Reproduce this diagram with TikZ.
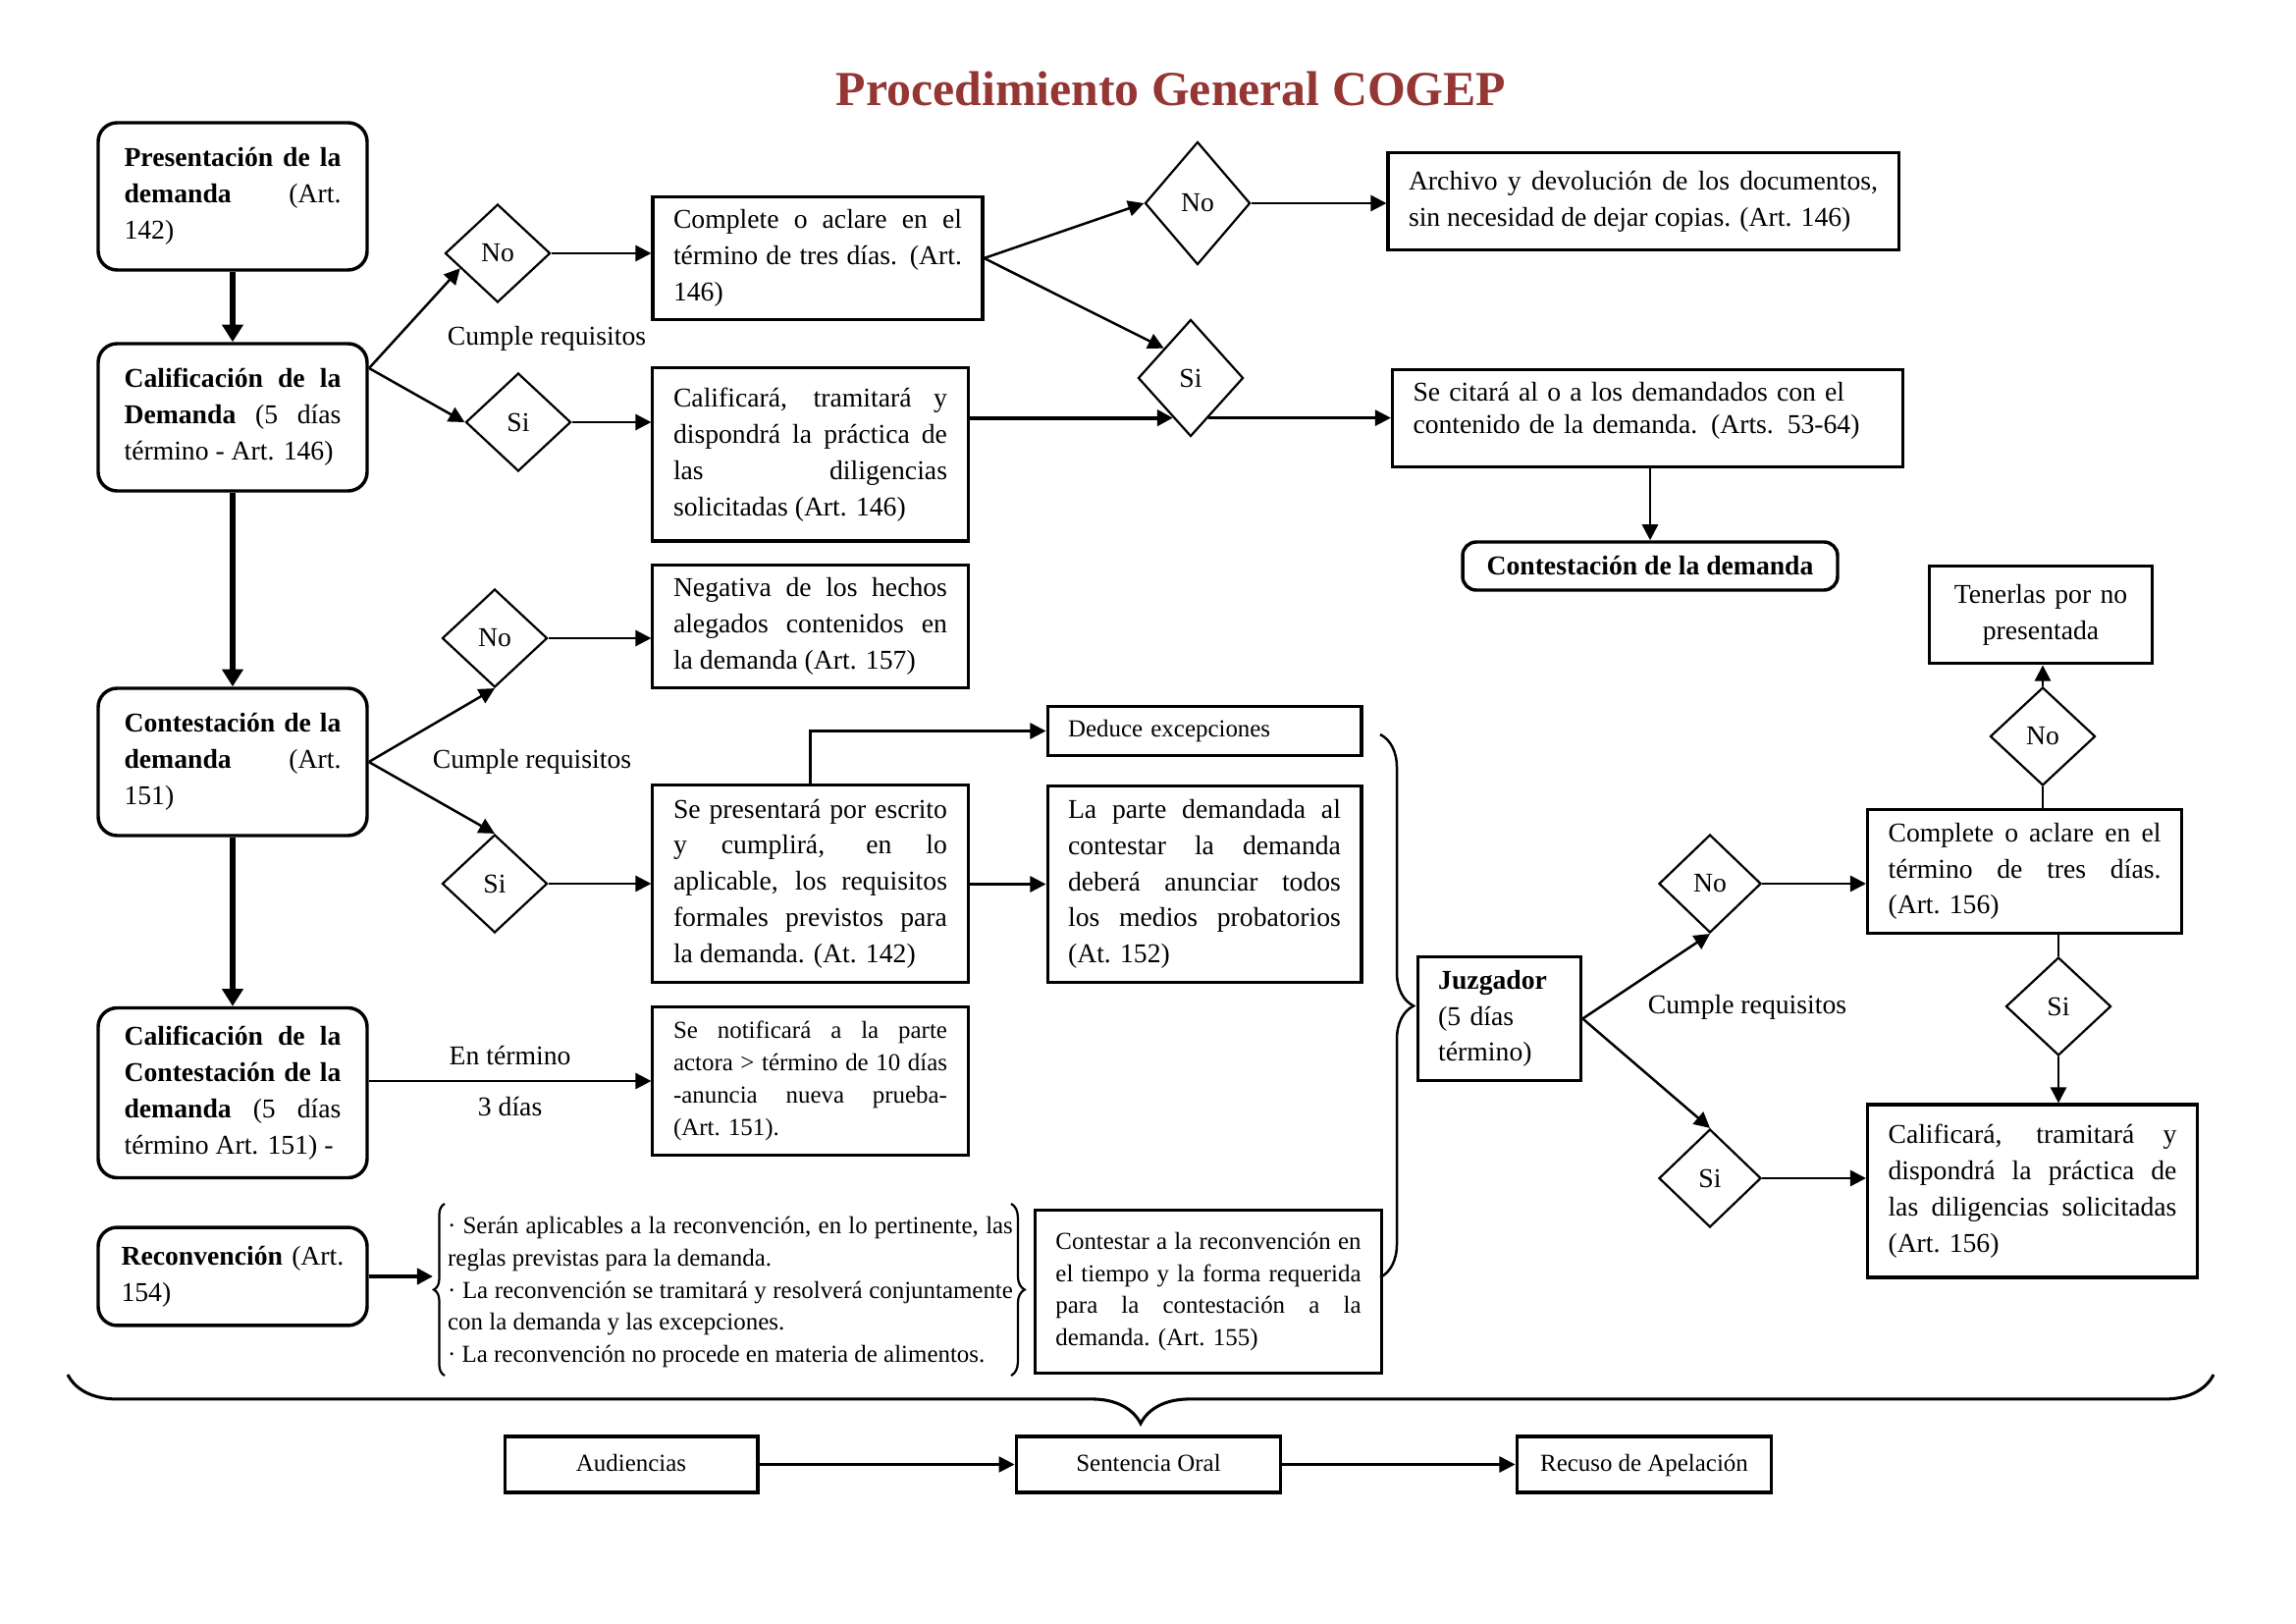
\documentclass[tikz,border=0pt]{standalone}
\usepackage{fontspec}
\setmainfont{Liberation Serif}
\usetikzlibrary{shapes.geometric,arrows.meta,decorations.pathreplacing,calc}
\definecolor{titlered}{RGB}{148,54,52}
\newcommand\bodyfont{\fontsize{10}{13.3}\selectfont}
\newcommand\smallfont{\fontsize{9}{11.9}\selectfont}

\begin{document}
\begin{tikzpicture}[x=0.3613pt, y=-0.3613pt,
    every node/.style={font=\bodyfont},
    roundbox/.style={draw, line width=1.25pt, rounded corners=7pt, text width=79.8pt, inner xsep=9.6pt, inner ysep=0pt, align=justify, minimum height=54.2pt},
    plainbox/.style={draw, line width=1.1pt, inner xsep=7.6pt, inner ysep=0pt, align=justify},
    tagbox/.style={draw, line width=1.1pt, font=\smallfont, minimum height=20.6pt, text height=1.6ex, text depth=.45ex},
    ask/.style={draw, diamond, line width=0.8pt, inner sep=0pt, minimum width=38.7pt, minimum height=36.1pt},
    smalltext/.style={font=\smallfont},
    flow/.style={line width=0.9pt, -{Triangle[length=5.8pt,width=5.8pt]}},
    bigflow/.style={line width=2.2pt, -{Triangle[length=6.4pt,width=7.6pt]}},
    bracket/.style={line width=0.9pt, decorate}
]

        \useasboundingbox (0,0) rectangle (2339,1654);

        % title

        \node[font=\fontsize{18}{22}\selectfont\bfseries, text=titlered, anchor=base] (title) at (1193,108) {Procedimiento General COGEP};

        % left column

        \node[roundbox] (P1) at (237,200) {\textbf{Presentación de la}\linebreak \textbf{demanda} (Art.\linebreak 142)};
        \node[roundbox] (C1) at (237,425) {\textbf{Calificación de la}\linebreak \textbf{Demanda} (5 días\linebreak término - Art. 146)};
        \node[roundbox] (C2) at (237,776) {\textbf{Contestación de la}\linebreak \textbf{demanda} (Art.\linebreak 151)};
        \node[roundbox, minimum height=62.5pt] (C3) at (237,1113) {\textbf{Calificación de la}\linebreak \textbf{Contestación de la}\linebreak \textbf{demanda} (5 días\linebreak término Art. 151) -};
        \node[roundbox, minimum height=36.1pt, text width=82pt, inner xsep=8.5pt, align=left] (R) at (237,1300) {\textbf{Reconvención} (Art.\\ 154)};

        \draw[bigflow] (P1) -- (C1);
        \draw[bigflow] (C1) -- (C2);
        \draw[bigflow] (C2) -- (C3);

        % calificacion de la demanda

        \node[ask] (D1) at (507,258) {No};
        \node[ask] (D2) at (528,430) {Si};
        \coordinate (c1o) at (376,375);
        \draw[flow] (c1o) -- ($(D1.west)!0.3!(D1.south)$);
        \draw[flow] (c1o) -- (D2.west);
        \node (req1) at (557,345) {Cumple requisitos};

        \node[plainbox, text width=106.2pt, minimum height=45.5pt] (B1) at (833,263) {Complete o aclare en el\linebreak término de tres días. (Art.\linebreak 146)};
        \node[plainbox, text width=100.8pt, minimum height=63.6pt] (B2) at (825.5,463) {Calificará, tramitará y\linebreak dispondrá la práctica de\linebreak las diligencias\linebreak solicitadas (Art. 146)};
        \draw[flow] (D1.east) -- (D1.east -| B1.west);
        \draw[flow] (D2.east) -- (D2.east -| B2.west);

        \node[ask, minimum height=45.2pt] (D3) at (1220,207) {No};
        \node[ask, minimum height=43pt] (D4) at (1213,385) {Si};
        \node[plainbox, text width=172.7pt, minimum height=36.1pt] (A) at (1674,205) {Archivo y devolución de los documentos,\linebreak sin necesidad de dejar copias. (Art. 146)};
        \node[plainbox, text width=172.7pt, minimum height=36.1pt, align=left, font=\fontsize{10}{11.9}\selectfont] (S) at (1678.5,426) {Se citará al o a los demandados con el\\ contenido de la demanda. (Arts. 53-64)\\[-4pt]\mbox{}};
        \node[draw, line width=1.25pt, rounded corners=5pt, minimum width=138pt, minimum height=17.7pt, font=\bodyfont\bfseries] (CD) at (1681,576.5) {Contestación de la demanda};

        \draw[flow] (B1.east) -- (D3.west);
        \draw[flow] (B1.east) -- (D4.north west);
        \draw[flow] (D3.east) -- (D3.east -| A.west);
        \coordinate (d4in) at ($(D4.west)!0.67!(D4.south)$);
        \coordinate (d4out) at ($(D4.east)!0.67!(D4.south)$);
        \draw[flow, line width=1.4pt] (d4in -| B2.east) -- (d4in);
        \draw[flow] (d4out) -- (d4out -| S.west);
        \draw[flow] (CD.north |- S.south) -- (CD.north);

        % contestacion de la demanda

        \node[ask] (D5) at (504,650) {No};
        \node[ask] (D6) at (504,900) {Si};
        \draw[flow] (C2.east) -- (D5.south);
        \draw[flow] (C2.east) -- (D6.north);
        \node (req2) at (542,776) {Cumple requisitos};

        \node[plainbox, text width=100.8pt, minimum height=45.2pt] (N) at (825.5,638) {Negativa de los hechos\linebreak alegados contenidos en\linebreak la demanda (Art. 157)};
        \node[plainbox, text width=100.8pt, minimum height=72.3pt] (P) at (825.5,900) {Se presentará por escrito\linebreak y cumplirá, en lo\linebreak aplicable, los requisitos\linebreak formales previstos para\linebreak la demanda. (At. 142)};
        \draw[flow] (D5.east) -- (D5.east -| N.west);
        \draw[flow] (D6.east) -- (D6.east -| P.west);

        \node[plainbox, smalltext, text width=100.4pt, align=left, minimum height=18.4pt] (DE) at (1227,744.5) {Deduce excepciones};
        \node[plainbox, text width=100.4pt, minimum height=72.6pt] (L) at (1227,900.5) {La parte demandada al\linebreak contestar la demanda\linebreak deberá anunciar todos\linebreak los medios probatorios\linebreak (At. 152)};
        \draw[flow] (P.north) |- (DE.west);
        \draw[flow] (L.west -| P.east) -- (L.west);

        \draw[bracket, decoration={brace, amplitude=12.3pt}] (1406,748) -- (1406,1301);

        % juzgador

        \node[plainbox, text width=45pt, align=left, minimum height=45.2pt] (J) at (1527.5,1037.5) {\textbf{Juzgador}\\ (5 días\\ término)};
        \node[ask, minimum width=37.6pt] (D7) at (1742,900) {No};
        \node[ask, minimum width=37.6pt] (D8) at (1742,1200) {Si};
        \draw[flow] (J.east) -- (D7.south);
        \draw[flow] (J.east) -- (D8.north);
        \node (req3) at (1780,1026) {Cumple requisitos};

        \node[plainbox, text width=100.4pt, minimum height=45.2pt] (CA) at (2062.5,887.5) {Complete o aclare en el\linebreak término de tres días.\linebreak (Art. 156)};
        \node[plainbox, text width=106.2pt, minimum height=63.6pt] (CB) at (2070.5,1213) {Calificará, tramitará y\linebreak dispondrá la práctica de\linebreak las diligencias solicitadas\linebreak (Art. 156)};
        \draw[flow] (D7.east) -- (D7.east -| CA.west);
        \draw[flow] (D8.east) -- (D8.east -| CB.west);

        \node[ask] (D9) at (2081,750) {No};
        \node[plainbox, align=center, text width=67pt, minimum height=36.1pt] (T) at (2079,626) {Tenerlas por no\\ presentada};
        \draw[line width=0.9pt] (D9.south |- CA.north) -- (D9.south);
        \draw[flow] (D9.north) -- (D9.north |- T.south);

        \node[ask] (D10) at (2097,1025) {Si};
        \draw[line width=0.9pt] (D10.north |- CA.south) -- (D10.north);
        \draw[flow] (D10.south) -- (D10.south |- CB.north);

        % calificacion de la contestacion

        \node[plainbox, smalltext, text width=100.8pt, minimum height=54.9pt] (NT) at (825.5,1101) {Se notificará a la parte\linebreak actora > término de 10 días\linebreak -anuncia nueva prueba-\linebreak (Art. 151).};
        \draw[flow] (NT.west -| C3.east) -- node[above=2pt] (lblterm) {En término} node[below=2pt] (lbldays) {3 días} (NT.west);

        % reconvencion

        \coordinate (lb) at (441,1300);
        \draw[flow, line width=1.6pt] (R.east) -- (lb);
        \draw[bracket, line width=0.8pt, decoration={brace, amplitude=4pt}] (453,1401) -- (453,1226);
        \node[smalltext, text width=208pt, align=justify, inner sep=0pt] (RL) at (744,1316) {· Serán aplicables a la reconvención, en lo pertinente, las\linebreak reglas previstas para la demanda.\\ · La reconvención se tramitará y resolverá conjuntamente\linebreak con la demanda y las excepciones.\\ · La reconvención no procede en materia de alimentos.};
        \draw[bracket, line width=0.8pt, decoration={brace, amplitude=5pt}] (1030,1226) -- (1030,1401);

        \node[plainbox, smalltext, text width=112.4pt, minimum height=60.3pt] (RC) at (1231,1315.5) {Contestar a la reconvención en\linebreak el tiempo y la forma requerida\linebreak para la contestación a la\linebreak demanda. (Art. 155)};

        % audiencias

        \draw[bracket, line width=1.1pt, decoration={brace, amplitude=18pt}] (2255,1400) -- (69,1400);

        \node[tagbox, minimum width=93.2pt] (Au) at (643,1491.5) {Audiencias};
        \node[tagbox, minimum width=97.5pt] (SO) at (1170,1491.5) {Sentencia Oral};
        \node[tagbox, minimum width=93.9pt] (RA) at (1675,1491.5) {Recuso de Apelación};
        \draw[flow] (Au) -- (SO);
        \draw[flow] (SO) -- (RA);

    \end{tikzpicture}
\end{document}
